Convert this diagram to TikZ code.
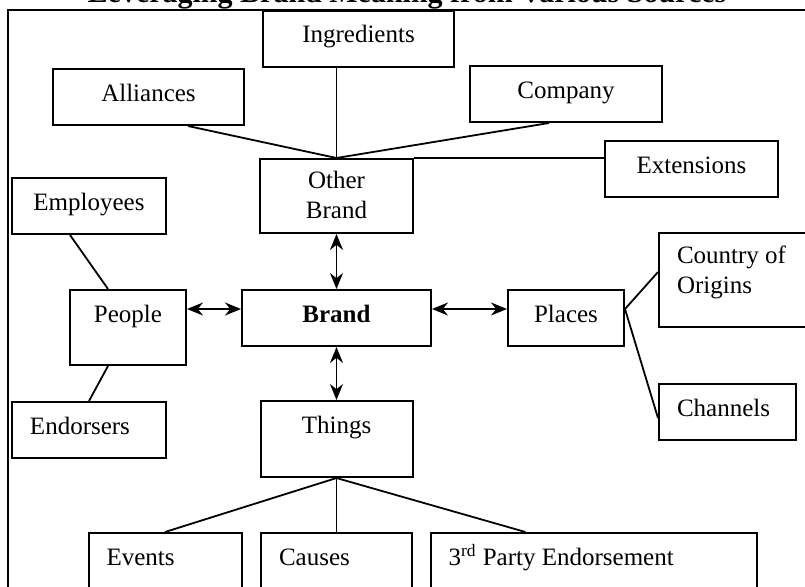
\documentclass[tikz,border=0pt]{standalone}
\usepackage{fontspec}
\setmainfont{Liberation Serif}
\usetikzlibrary{positioning, arrows.meta}

\tikzset{
	box/.style={draw, line width=1pt, inner xsep=0pt, inner ysep=0pt,
		minimum height=28pt, text height=16pt, text depth=12pt,
		font=\fontsize{12.5}{15}\selectfont},
	leftbox/.style={box, align=flush left, inner xsep=9pt},
}

\begin{document}
\begin{tikzpicture}[x=0.5pt,y=-0.5pt,on grid,>={Stealth[length=8pt,width=6.5pt]}]

	\useasboundingbox (0,0) rectangle (805,586);

% Title and frame
	\node (title) [anchor=base, font=\bfseries\fontsize{15}{18}\selectfont] at (407,2)
		{Leveraging Brand Meaning from Various Sources};
	\draw[line width=0.9pt] (8,10) rectangle (830,610);

% Brand nodes
	\node (brand)		[box, minimum width=94.5pt] at (336.5,318)	{\textbf{Brand}};

	\node (other_brand)	[box, minimum width=76.5pt, align=center, text height=29.5pt, text depth=7.5pt,
						above=61pt of brand]						{Other\\Brand};
	\node (people)		[box, minimum width=58pt, text depth=21.5pt,
						below left=4.75pt and 104.25pt of brand]	{People};
	\node (places)		[box, minimum width=58pt, right=114.75pt of brand]	{Places};
	\node (things)		[box, minimum width=76pt, text depth=22pt, below=60.5pt of brand]	{Things};

	\node (ingred)		[box, minimum width=95.5pt, above right=78.75pt and 11pt of other_brand]	{Ingredients};
	\node (alliances)	[box, minimum width=95.5pt, above left=49.5pt and 94pt of other_brand]	{Alliances};
	\node (company)		[box, minimum width=96pt, above right=51pt and 114.75pt of other_brand]	{Company};
	\node (extensions)	[box, minimum width=86.5pt, above right=13.5pt and 177.5pt of other_brand]	{Extensions};

	\node (employees)	[box, minimum width=77pt, above left=60.75pt and 19.5pt of people]	{Employees};
	\node (endorsers)	[leftbox, text width=59pt, below left=51.25pt and 19.5pt of people]	{Endorsers};

	\node (country)		[leftbox, text width=77pt, text height=15pt, text depth=32pt,
						above right=19pt and 94pt of places]		{Country of\\Origins};
	\node (channels)	[leftbox, text width=50.5pt, below right=47pt and 80.75pt of places]	{Channels};

	\node (events)		[leftbox, text width=58.5pt, below left=61pt and 85.75pt of things]	{Events};
	\node (causes)		[leftbox, text width=57.5pt, below=61pt of things]	{Causes};
	\node (third_party)	[leftbox, text width=145pt, below right=61pt and 128.5pt of things]	{3\textsuperscript{rd} Party Endorsement};

% Arrow ends beside the brand
	\coordinate (brand_l) at ([yshift=-10pt]brand.north west);
	\coordinate (brand_r) at ([yshift=-10pt]brand.north east);

% Plain links
	\path[line width=0.9pt]
		([xshift=19.75pt]alliances.south)	edge (other_brand.north)
		(other_brand.north |- ingred.south)	edge (other_brand.north)
		([xshift=-8.5pt]company.south)		edge (other_brand.north)
		(other_brand.north east)			edge (other_brand.north east -| extensions.west)

		([xshift=-9.5pt]employees.south)	edge ([xshift=-10pt]people.north)
		([xshift=-10pt]people.south)		edge (endorsers.north)

		([yshift=-10pt]places.north east)	edge ([yshift=-20pt]country.north west)
		([yshift=-10pt]places.north east)	edge ([yshift=-17.5pt]channels.north west)

		(things.south)		edge (events.north)
		(things.south)		edge (causes.north)
		(things.south)		edge ([xshift=-34pt]third_party.north)
	;

% Two-way arrows
	\path[<->, line width=0.9pt]
		(other_brand.south)	edge (other_brand.south |- brand.north)
		(brand.south)		edge (things.north)
		(brand_l)			edge (brand_l -| people.east)
		(brand_r)			edge (brand_r -| places.west)
	;

\end{tikzpicture}
\end{document}
